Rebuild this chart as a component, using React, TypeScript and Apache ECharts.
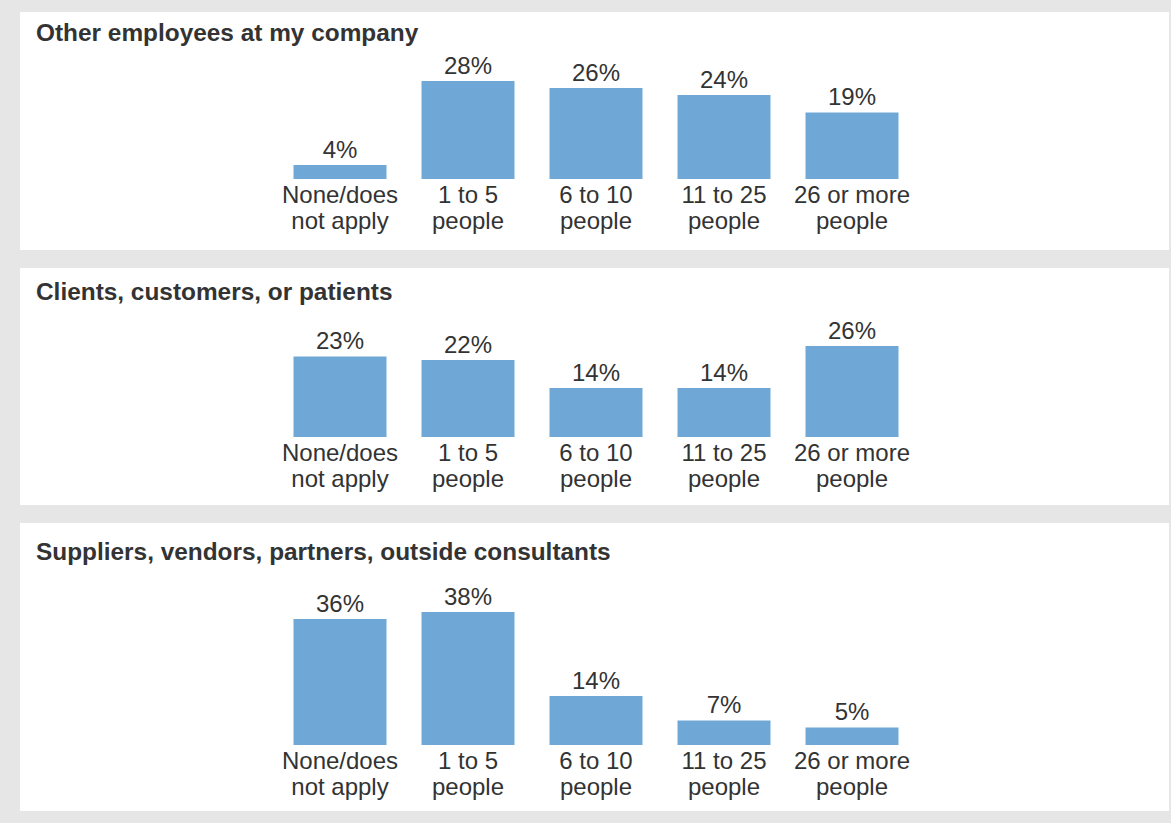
import React, { useEffect, useRef } from "react";
import * as echarts from "echarts";

const categories = ["None/does\nnot apply", "1 to 5\npeople", "6 to 10\npeople", "11 to 25\npeople", "26 or more\npeople"];
const panelTitles = [
  "Other employees at my company",
  "Clients, customers, or patients",
  "Suppliers, vendors, partners, outside consultants",
];
const otherEmployees = [4, 28, 26, 24, 19];
const clientsCustomers = [23, 22, 14, 14, 26];
const suppliersVendors = [36, 38, 14, 7, 5];

const seriesValues = [otherEmployees, clientsCustomers, suppliersVendors];

const FONT = "'Liberation Sans', Arial, sans-serif";
const TEXT = "#333333";
const BAR = "#6fa8d6";

// layout
const panels = [
  { y: 12, h: 238, titleY: 32, gridBottom: 179 },
  { y: 268, h: 237, titleY: 291, gridBottom: 437 },
  { y: 523, h: 288, titleY: 551, gridBottom: 745 },
];
const PX_PER_PCT = 3.5;
const Y_MAX = 40;

export default function App() {
  const ref = useRef<HTMLDivElement>(null);
  useEffect(() => {
    if (!ref.current) return;
    const chart = echarts.init(ref.current, undefined, { renderer: "svg" });
    const gridH = Y_MAX * PX_PER_PCT;
    const option: any = {
      animation: false,
      backgroundColor: "#e6e6e6",
      graphic: [
        ...panels.map((p) => ({
          type: "rect",
          silent: true,
          z: -10,
          shape: { x: 20, y: p.y, width: 1149, height: p.h },
          style: { fill: "#ffffff" },
        })),
        ...panels.map((p, i) => ({
          type: "text",
          silent: true,
          x: 36,
          y: p.titleY,
          style: {
            text: panelTitles[i],
            fontFamily: FONT,
            fontSize: 24.4,
            fontWeight: "bold",
            fill: TEXT,
            verticalAlign: "middle",
            align: "left",
          },
        })),
      ],
      grid: panels.map((p) => ({
        left: 276,
        width: 640,
        top: p.gridBottom - gridH,
        height: gridH,
      })),
      xAxis: panels.map((_, i) => ({
        type: "category",
        gridIndex: i,
        data: categories,
        axisLine: { show: false },
        axisTick: { show: false },
        splitLine: { show: false },
        axisLabel: {
          interval: 0,
          fontFamily: FONT,
          fontSize: 24,
          lineHeight: 26,
          color: TEXT,
          margin: 2,
        },
      })),
      yAxis: panels.map((_, i) => ({
        type: "value",
        gridIndex: i,
        min: 0,
        max: Y_MAX,
        show: false,
        splitLine: { show: false },
      })),
      series: seriesValues.map((vals, i) => ({
        type: "bar",
        xAxisIndex: i,
        yAxisIndex: i,
        data: vals,
        barWidth: 93,
        itemStyle: { color: BAR },
        label: {
          show: true,
          position: "top",
          distance: 4,
          formatter: "{c}%",
          fontFamily: FONT,
          fontSize: 24,
          color: TEXT,
        },
      })),
    };
    chart.setOption(option);
    return () => chart.dispose();
  }, []);
  return (
    <div
      ref={ref}
      style={{ position: "absolute", left: 0, top: 0, width: 1171, height: 823 }}
    />
  );
}
